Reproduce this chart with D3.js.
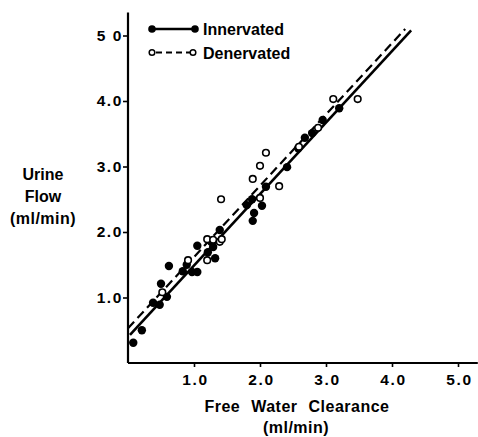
<!DOCTYPE html>
<html><head><meta charset="utf-8">
<script src="https://cdn.jsdelivr.net/npm/d3@7"></script>
<style>body{margin:0;background:#fff}svg{display:block}</style>
</head><body>
<svg id="c" width="478" height="437"></svg>
<script>
const xTicks = [1, 2, 3, 4, 5];
const xTickLabels = ["1.0", "2.0", "3.0", "4.0", "5.0"];
const yTicks = [1, 2, 3, 4, 5];
const yTickLabels = ["1.0", "2.0", "3.0", "4.0", "5 0"];
const innervatedX = [0.08,0.21,0.38,0.48,0.50,0.59,0.62,0.83,0.89,0.97,1.05,1.05,1.21,1.26,1.29,1.32,1.39,1.80,1.88,1.89,1.91,2.03,2.09,2.41,2.58,2.68,2.79,2.95,3.20];
const innervatedY = [0.31,0.50,0.92,0.89,1.21,1.01,1.48,1.40,1.50,1.39,1.39,1.79,1.69,1.85,1.77,1.60,2.03,2.41,2.50,2.17,2.29,2.40,2.69,2.99,3.28,3.44,3.51,3.71,3.89];
const denervatedX = [0.52,0.91,1.20,1.20,1.29,1.39,1.42,1.41,1.89,2.00,2.00,2.09,2.29,2.59,2.88,3.11,3.48];
const denervatedY = [1.08,1.57,1.57,1.89,1.88,1.85,1.89,2.50,2.81,2.52,3.01,3.21,2.70,3.30,3.59,4.03,4.03];
const innervatedLineX = [0.03, 4.29];
const innervatedLineY = [0.43, 5.08];
const denervatedLineX = [0.0, 4.20];
const denervatedLineY = [0.53, 5.10];
const legendLabels = ["Innervated", "Denervated"];

const svg = d3.select("#c");
const x0 = 128, y0 = 363;
const x = d3.scaleLinear().domain([0, 5.3]).range([x0, x0 + 5.3 * 66]);
const y = d3.scaleLinear().domain([0, 5.35]).range([y0, y0 - 5.35 * 65.5]);
const font = "'Liberation Sans', Arial, Helvetica, sans-serif";

// axes
const gx = svg.append("g").attr("transform", `translate(0,${y0})`)
  .call(d3.axisBottom(x).tickValues(xTicks).tickSize(4).tickPadding(7)
    .tickFormat((d, i) => xTickLabels[i]));
const gy = svg.append("g").attr("transform", `translate(${x0},0)`)
  .call(d3.axisLeft(y).tickValues(yTicks).tickSize(5).tickPadding(0)
    .tickFormat((d, i) => yTickLabels[i]));
[gx, gy].forEach(g => {
  g.select(".domain").attr("stroke", "#000").attr("stroke-width", 2.2);
  g.selectAll(".tick line").attr("stroke", "#000").attr("stroke-width", 1.6);
  g.selectAll(".tick text").attr("font-family", font).attr("font-size", 15.5)
    .attr("font-weight", "bold").attr("letter-spacing", "1.6px").attr("fill", "#000");
});
gx.selectAll(".tick text").attr("dx", "1px");
gy.select(".domain").attr("d", `M0,${y.range()[0]}V${y.range()[1]}`);
gx.select(".domain").attr("d", `M${x.range()[0]},0H${x.range()[1]}`);

// lines
const line = d3.line().x(d => x(d[0])).y(d => y(d[1]));
svg.append("path").datum(d3.zip(innervatedLineX, innervatedLineY))
  .attr("d", line).attr("fill", "none").attr("stroke", "#000").attr("stroke-width", 2.6);
svg.append("path").datum(d3.zip(denervatedLineX, denervatedLineY))
  .attr("d", line).attr("fill", "none").attr("stroke", "#000").attr("stroke-width", 2.2)
  .attr("stroke-dasharray", "9,5");

// points
svg.append("g").selectAll("circle").data(d3.zip(innervatedX, innervatedY)).join("circle")
  .attr("cx", d => x(d[0])).attr("cy", d => y(d[1])).attr("r", 4.2).attr("fill", "#000");
svg.append("g").selectAll("circle").data(d3.zip(denervatedX, denervatedY)).join("circle")
  .attr("cx", d => x(d[0])).attr("cy", d => y(d[1])).attr("r", 3.3)
  .attr("fill", "#fff").attr("stroke", "#000").attr("stroke-width", 1.6);

// legend
const lg = svg.append("g");
lg.append("line").attr("x1", 152).attr("x2", 195).attr("y1", 29).attr("y2", 29)
  .attr("stroke", "#000").attr("stroke-width", 2.4);
lg.append("circle").attr("cx", 152).attr("cy", 29).attr("r", 3.8).attr("fill", "#000");
lg.append("circle").attr("cx", 195).attr("cy", 29).attr("r", 3.8).attr("fill", "#000");
lg.append("line").attr("x1", 152).attr("x2", 193).attr("y1", 52.5).attr("y2", 52.5)
  .attr("stroke", "#000").attr("stroke-width", 2).attr("stroke-dasharray", "6,4").attr("stroke-dashoffset", -4);
lg.append("circle").attr("cx", 152).attr("cy", 52.5).attr("r", 2.8)
  .attr("fill", "#fff").attr("stroke", "#000").attr("stroke-width", 1.5);
lg.append("circle").attr("cx", 193).attr("cy", 52.5).attr("r", 2.8)
  .attr("fill", "#fff").attr("stroke", "#000").attr("stroke-width", 1.5);
lg.selectAll("text").data(legendLabels).join("text")
  .attr("x", 203).attr("y", (d, i) => 35 + i * 23.5).text(d => d)
  .attr("font-family", font).attr("font-size", 16).attr("font-weight", "bold");

// axis titles
const t = svg.append("g").attr("font-family", font).attr("font-size", 16)
  .attr("font-weight", "bold").attr("text-anchor", "middle");
t.append("text").attr("x", 297).attr("y", 412).attr("letter-spacing", "0.5px")
  .attr("word-spacing", "6px").text("Free Water Clearance");
t.append("text").attr("x", 296).attr("y", 433).attr("letter-spacing", "0.5px").text("(ml/min)");
t.append("text").attr("x", 43).attr("y", 180).text("Urine");
t.append("text").attr("x", 43).attr("y", 202).text("Flow");
t.append("text").attr("x", 43).attr("y", 224).attr("letter-spacing", "0.5px").text("(ml/min)");
</script>
</body></html>
